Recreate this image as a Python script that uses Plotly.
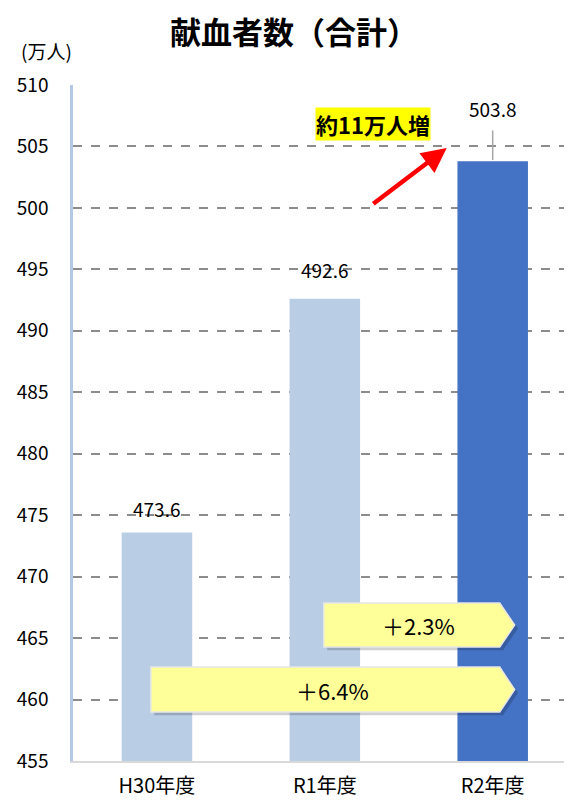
import plotly.graph_objects as go

categories = ["H30年度", "R1年度", "R2年度"]
values = [473.6, 492.6, 503.8]
bar_colors = ["#B9CDE5", "#B9CDE5", "#4472C4"]
label_texts = ["473.6", "492.6", "503.8"]
y_ticks = list(range(455, 511, 5))
growth_labels = ["＋2.3%", "＋6.4%"]

FONT = "Noto Sans CJK JP"
xs = list(range(len(categories)))

fig = go.Figure()
fig.add_trace(go.Bar(
    x=xs, y=values, width=0.42,
    marker=dict(color=bar_colors, line=dict(width=0)),
    hoverinfo="skip",
))

# data labels
shifts = [24, 29, 53]
for i, (v, t) in enumerate(zip(values, label_texts)):
    fig.add_annotation(x=i, y=v, text=t, showarrow=False, yshift=shifts[i],
                       font=dict(family=FONT, size=19, color="#000"))
# leader line for last label
fig.add_shape(type="line", xref="x", yref="y", x0=2, x1=2, y0=values[2] + 0.1, y1=506.3,
              line=dict(color="#A6A6A6", width=1.5))

# pentagon arrows (with shadow)
def pent(x0, x1, xt, y0, y1):
    ym = (y0 + y1) / 2
    return f"M{x0},{y0} L{x1},{y0} L{xt},{ym} L{x1},{y1} L{x0},{y1} Z"

boxes = [
    (0.994, 2.042, 2.131, 464.27, 467.85, growth_labels[0]),
    (-0.036, 2.042, 2.131, 458.98, 462.64, growth_labels[1]),
]
for x0, x1, xt, y0, y1, lab in boxes:
    fig.add_shape(type="path", xref="x", yref="y", path=pent(x0 + 0.02, x1 + 0.02, xt + 0.02, y0 - 0.25, y1 - 0.25),
                  fillcolor="rgba(0,0,0,0.18)", line=dict(width=0), layer="above")
    fig.add_shape(type="path", xref="x", yref="y", path=pent(x0, x1, xt, y0, y1),
                  fillcolor="#FFFF99", line=dict(color="#E6E6E6", width=1.5), layer="above")
    fig.add_annotation(x=(x0 + x1) / 2 + 0.04, y=(y0 + y1) / 2, text=lab, showarrow=False,
                       font=dict(family=FONT, size=22, color="#000"))

# increase label and red arrow
fig.add_annotation(x=1.285, y=506.8, text="<b>約11万人増</b>", showarrow=False,
                   bgcolor="#FFFF00", font=dict(family=FONT, size=22, color="#000"), borderpad=0)
fig.add_annotation(x=1.726, y=504.87, ax=1.28, ay=500.24, axref="x", ayref="y", xref="x", yref="y",
                   text="", showarrow=True, arrowhead=2, arrowsize=1.1, arrowwidth=4.5, arrowcolor="#FF0000")

# title and unit
fig.add_annotation(xref="paper", yref="paper", x=0.5, y=1, yanchor="middle", text="<b>献血者数（合計）</b>",
                   showarrow=False, xshift=-33, yshift=55, font=dict(family=FONT, size=31, color="#000"))
fig.add_annotation(xref="paper", yref="paper", x=0, y=1, yanchor="middle", text="(万人)", showarrow=False,
                   xanchor="left", xshift=-54, yshift=35, font=dict(family=FONT, size=19, color="#000"))

fig.update_layout(
    width=572, height=802,
    margin=dict(l=65, r=0, t=77, b=49),
    plot_bgcolor="white", paper_bgcolor="white",
    showlegend=False,
    xaxis=dict(range=[-0.5, 2.52], tickvals=xs, ticktext=categories, showgrid=False,
               showline=True, linecolor="#D9D9D9", linewidth=1.5, ticks="", zeroline=False,
               ticklabelstandoff=6,
               tickfont=dict(family=FONT, size=20, color="#000")),
    yaxis=dict(range=[455, 510], tickvals=y_ticks, showgrid=True, gridcolor="#8C8C8C", griddash="dash",
               gridwidth=1.5, showline=True, linecolor="#B4C7E7", linewidth=2.5, zeroline=False,
               ticks="", ticklen=0, ticklabelstandoff=18,
               tickfont=dict(family=FONT, size=19, color="#000")),
)
fig.write_html("out.html")
